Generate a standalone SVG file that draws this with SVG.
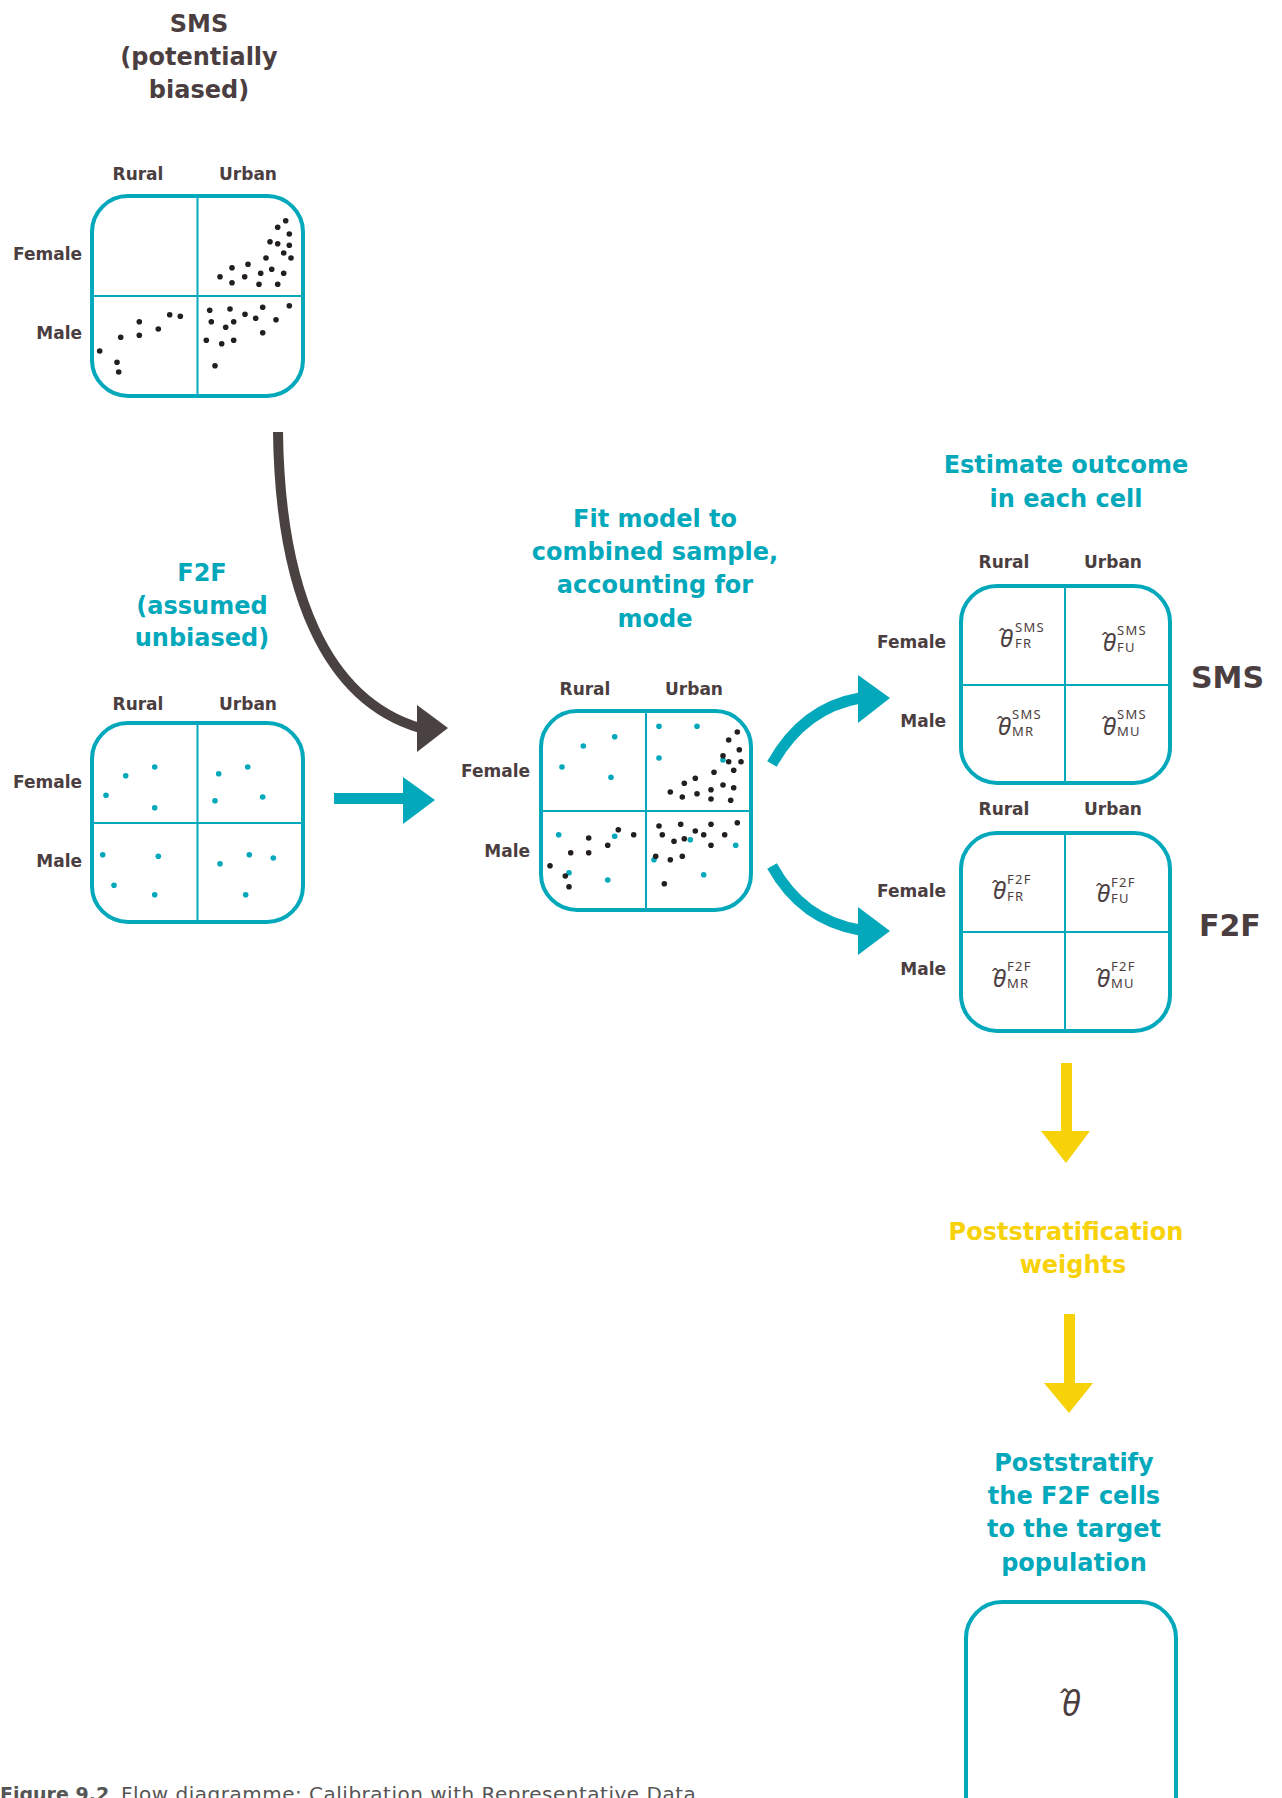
<svg xmlns="http://www.w3.org/2000/svg" width="1282" height="1798" viewBox="0 0 1282 1798">
<style>
.box{fill:none;stroke:#03a8bb;stroke-width:4}
.div{stroke:#03a8bb;stroke-width:2}
.lbl{font-family:"DejaVu Sans",sans-serif;font-weight:bold;font-size:17px;fill:#4b3e40}
.mid{text-anchor:middle}
.end{text-anchor:end}
.tt{font-family:"DejaVu Sans",sans-serif;font-weight:bold;font-size:24px;text-anchor:middle}
.teal{fill:#03a8bb}
.dark{fill:#4b3e40}
.yel{fill:#f8d208}
.big{font-family:"DejaVu Sans",sans-serif;font-weight:bold;font-size:30px;fill:#4b3e40}
.th{font-family:"Noto Sans",sans-serif;font-style:italic;font-size:24px;fill:#4b3e40}
.hat{font-style:normal;font-size:20px}
.sc{font-family:"Noto Sans",sans-serif;font-style:normal;font-size:13px;fill:#4b3e40;letter-spacing:1.3px}
.b{fill:#231f20}
.t{fill:#03a8bb}
</style>
<defs>
<circle id="d" r="2.8"/>
</defs>

<g id="connectors">
<path d="M278,432 C280,590 325,700 420,728" fill="none" stroke="#4a4240" stroke-width="10"/>
<polygon points="417,705 417,752 448,728" fill="#4a4240"/>
<rect x="334" y="793" width="70" height="11" fill="#03a8bb"/>
<polygon points="403,777 403,824 435,800" fill="#03a8bb"/>
<path d="M772,764 C792,728 820,705 860,698" fill="none" stroke="#03a8bb" stroke-width="11"/>
<polygon points="858,675 858,723 890,698" fill="#03a8bb"/>
<path d="M772,866 C792,902 820,923 860,930" fill="none" stroke="#03a8bb" stroke-width="11"/>
<polygon points="858,907 858,955 890,931" fill="#03a8bb"/>
<rect x="1061" y="1063" width="11" height="69" fill="#f8d208"/>
<polygon points="1041,1131 1090,1131 1066,1163" fill="#f8d208"/>
<rect x="1064" y="1314" width="11" height="70" fill="#f8d208"/>
<polygon points="1044,1383 1093,1383 1069,1413" fill="#f8d208"/>
</g>

<g id="sms-sample">
<text class="tt dark" x="199" y="32">SMS</text>
<text class="tt dark" x="199" y="65">(potentially</text>
<text class="tt dark" x="199" y="98">biased)</text>
<text class="lbl mid" x="138" y="180">Rural</text>
<text class="lbl mid" x="248" y="180">Urban</text>
<text class="lbl end" x="82" y="260">Female</text>
<text class="lbl end" x="82" y="339">Male</text>
<rect class="box" x="92" y="196" width="211" height="200" rx="36"/>
<line class="div" x1="197.5" y1="196" x2="197.5" y2="396"/>
<line class="div" x1="92" y1="296" x2="303" y2="296"/>
<g class="b">
<use href="#d" x="285.7" y="220.7"/><use href="#d" x="277.7" y="227.3"/><use href="#d" x="289.3" y="234"/><use href="#d" x="270" y="241.7"/><use href="#d" x="277.7" y="243.7"/><use href="#d" x="289.3" y="245.3"/><use href="#d" x="283.7" y="253"/><use href="#d" x="266" y="258"/><use href="#d" x="291" y="258"/><use href="#d" x="248" y="264.3"/><use href="#d" x="232" y="267.7"/><use href="#d" x="271.7" y="269.3"/><use href="#d" x="283.7" y="273.3"/><use href="#d" x="220" y="276.7"/><use href="#d" x="244.7" y="276.7"/><use href="#d" x="260.7" y="273.3"/><use href="#d" x="232" y="282.7"/><use href="#d" x="259" y="284.3"/><use href="#d" x="277.7" y="284.3"/>
<use href="#d" x="99.7" y="351"/><use href="#d" x="117" y="362.3"/><use href="#d" x="118.7" y="372"/><use href="#d" x="120.7" y="337.3"/><use href="#d" x="139.3" y="321.7"/><use href="#d" x="139.3" y="335.3"/><use href="#d" x="158.3" y="329"/><use href="#d" x="169.7" y="314.7"/><use href="#d" x="180.3" y="316.3"/>
<use href="#d" x="209.7" y="310.3"/><use href="#d" x="230" y="309"/><use href="#d" x="245" y="314.3"/><use href="#d" x="262.7" y="307.3"/><use href="#d" x="289.3" y="305.7"/><use href="#d" x="211.3" y="321.7"/><use href="#d" x="233.7" y="321.7"/><use href="#d" x="255.7" y="318.3"/><use href="#d" x="225.7" y="327.3"/><use href="#d" x="276" y="319.7"/><use href="#d" x="262.7" y="332.7"/><use href="#d" x="206.3" y="340.3"/><use href="#d" x="221.7" y="343.7"/><use href="#d" x="233.7" y="340.3"/><use href="#d" x="215" y="365.7"/>
</g>
</g>

<g id="f2f-sample">
<text class="tt teal" x="202" y="581">F2F</text>
<text class="tt teal" x="202" y="614">(assumed</text>
<text class="tt teal" x="202" y="646">unbiased)</text>
<text class="lbl mid" x="138" y="710">Rural</text>
<text class="lbl mid" x="248" y="710">Urban</text>
<text class="lbl end" x="82" y="788">Female</text>
<text class="lbl end" x="82" y="867">Male</text>
<rect class="box" x="92" y="723" width="211" height="199" rx="36"/>
<line class="div" x1="197.5" y1="723" x2="197.5" y2="922"/>
<line class="div" x1="92" y1="823" x2="303" y2="823"/>
<g class="t">
<use href="#d" x="125.7" y="775.7"/><use href="#d" x="154.7" y="767"/><use href="#d" x="106" y="795.3"/><use href="#d" x="154.7" y="807.7"/>
<use href="#d" x="218.7" y="773.7"/><use href="#d" x="247.7" y="767"/><use href="#d" x="215" y="800.7"/><use href="#d" x="262.7" y="797"/>
<use href="#d" x="102.7" y="854.7"/><use href="#d" x="158.3" y="856.3"/><use href="#d" x="114" y="885.3"/><use href="#d" x="154.7" y="894.7"/>
<use href="#d" x="220" y="863.7"/><use href="#d" x="249.3" y="854.7"/><use href="#d" x="273.3" y="858"/><use href="#d" x="245.7" y="894.7"/>
</g>
</g>

<g id="combined-model">
<text class="tt teal" x="655" y="527">Fit model to</text>
<text class="tt teal" x="655" y="560">combined sample,</text>
<text class="tt teal" x="655" y="593">accounting for</text>
<text class="tt teal" x="655" y="627">mode</text>
<text class="lbl mid" x="585" y="695">Rural</text>
<text class="lbl mid" x="694" y="695">Urban</text>
<text class="lbl end" x="530" y="777">Female</text>
<text class="lbl end" x="530" y="857">Male</text>
<rect class="box" x="541" y="711" width="210" height="199" rx="36"/>
<line class="div" x1="646" y1="711" x2="646" y2="910"/>
<line class="div" x1="541" y1="811" x2="751" y2="811"/>
<g class="t">
<use href="#d" x="614.7" y="736.7"/><use href="#d" x="583.3" y="746"/><use href="#d" x="562" y="767"/><use href="#d" x="611" y="777.3"/>
<use href="#d" x="659" y="726.3"/><use href="#d" x="697" y="726.3"/><use href="#d" x="659" y="758"/><use href="#d" x="723" y="760"/>
<use href="#d" x="558.7" y="834.7"/><use href="#d" x="614.7" y="836.3"/><use href="#d" x="569" y="872.7"/><use href="#d" x="607.7" y="880"/>
<use href="#d" x="690.3" y="839.7"/><use href="#d" x="735.7" y="845.3"/><use href="#d" x="654" y="859.7"/><use href="#d" x="703.7" y="874.7"/>
</g>
<g class="b">
<use href="#d" x="737.3" y="732"/><use href="#d" x="728.7" y="740"/><use href="#d" x="739.3" y="749.7"/><use href="#d" x="723" y="755.7"/><use href="#d" x="728.7" y="761.7"/><use href="#d" x="741" y="761.7"/><use href="#d" x="714" y="772.3"/><use href="#d" x="733.7" y="770.3"/><use href="#d" x="684.3" y="783.3"/><use href="#d" x="695.3" y="778.3"/><use href="#d" x="723" y="785"/><use href="#d" x="733.7" y="787.7"/><use href="#d" x="670.3" y="792"/><use href="#d" x="682.3" y="797"/><use href="#d" x="697" y="793.7"/><use href="#d" x="711" y="789.7"/><use href="#d" x="711" y="799"/><use href="#d" x="730.7" y="800.3"/>
<use href="#d" x="618.3" y="829.7"/><use href="#d" x="633.7" y="834.7"/><use href="#d" x="588.7" y="838"/><use href="#d" x="607.7" y="845.3"/><use href="#d" x="570.7" y="852.7"/><use href="#d" x="588.7" y="852.7"/><use href="#d" x="550" y="865.7"/><use href="#d" x="565.3" y="876"/><use href="#d" x="569" y="886.7"/>
<use href="#d" x="659" y="826"/><use href="#d" x="680.7" y="824.3"/><use href="#d" x="711" y="824.3"/><use href="#d" x="737.3" y="822.7"/><use href="#d" x="662.3" y="834.7"/><use href="#d" x="695.3" y="831"/><use href="#d" x="703.7" y="834.7"/><use href="#d" x="724.7" y="834.7"/><use href="#d" x="674" y="841.3"/><use href="#d" x="684.3" y="838.7"/><use href="#d" x="711" y="845.3"/><use href="#d" x="655.7" y="856.3"/><use href="#d" x="670.3" y="859.7"/><use href="#d" x="682.3" y="856.3"/><use href="#d" x="664.3" y="883.7"/>
</g>
</g>

<g id="sms-estimates">
<text class="tt teal" x="1066" y="473">Estimate outcome</text>
<text class="tt teal" x="1066" y="507">in each cell</text>
<text class="lbl mid" x="1004" y="568">Rural</text>
<text class="lbl mid" x="1113" y="568">Urban</text>
<text class="lbl end" x="946" y="648">Female</text>
<text class="lbl end" x="946" y="727">Male</text>
<rect class="box" x="961" y="586" width="209" height="197" rx="36"/>
<line class="div" x1="1065" y1="586" x2="1065" y2="783"/>
<line class="div" x1="961" y1="685" x2="1170" y2="685"/>
<text class="th"><tspan class="hat" x="998" y="643">ˆ</tspan><tspan x="1000" y="647">θ</tspan><tspan class="sc" x="1015" y="632">SMS</tspan><tspan class="sc" x="1015" y="648">FR</tspan></text>
<text class="th"><tspan class="hat" x="1101" y="647">ˆ</tspan><tspan x="1103" y="651">θ</tspan><tspan class="sc" x="1117" y="635">SMS</tspan><tspan class="sc" x="1117" y="652">FU</tspan></text>
<text class="th"><tspan class="hat" x="996" y="731">ˆ</tspan><tspan x="998" y="735">θ</tspan><tspan class="sc" x="1012" y="719">SMS</tspan><tspan class="sc" x="1012" y="736">MR</tspan></text>
<text class="th"><tspan class="hat" x="1101" y="731">ˆ</tspan><tspan x="1103" y="735">θ</tspan><tspan class="sc" x="1117" y="719">SMS</tspan><tspan class="sc" x="1117" y="736">MU</tspan></text>
<text class="big" x="1191" y="688">SMS</text>
</g>

<g id="f2f-estimates">
<text class="lbl mid" x="1004" y="815">Rural</text>
<text class="lbl mid" x="1113" y="815">Urban</text>
<text class="lbl end" x="946" y="897">Female</text>
<text class="lbl end" x="946" y="975">Male</text>
<rect class="box" x="961" y="833" width="209" height="198" rx="36"/>
<line class="div" x1="1065" y1="833" x2="1065" y2="1031"/>
<line class="div" x1="961" y1="932" x2="1170" y2="932"/>
<text class="th"><tspan class="hat" x="991" y="895">ˆ</tspan><tspan x="993" y="899">θ</tspan><tspan class="sc" x="1007" y="884">F2F</tspan><tspan class="sc" x="1007" y="901">FR</tspan></text>
<text class="th"><tspan class="hat" x="1095" y="898">ˆ</tspan><tspan x="1097" y="902">θ</tspan><tspan class="sc" x="1111" y="887">F2F</tspan><tspan class="sc" x="1111" y="903">FU</tspan></text>
<text class="th"><tspan class="hat" x="991" y="983">ˆ</tspan><tspan x="993" y="987">θ</tspan><tspan class="sc" x="1007" y="971">F2F</tspan><tspan class="sc" x="1007" y="988">MR</tspan></text>
<text class="th"><tspan class="hat" x="1095" y="983">ˆ</tspan><tspan x="1097" y="987">θ</tspan><tspan class="sc" x="1111" y="971">F2F</tspan><tspan class="sc" x="1111" y="988">MU</tspan></text>
<text class="big" x="1199" y="936">F2F</text>
</g>

<g id="weights">
<text class="tt yel" x="1066" y="1240">Poststratification</text>
<text class="tt yel" x="1073" y="1273">weights</text>
</g>

<g id="poststratify">
<text class="tt teal" x="1074" y="1471">Poststratify</text>
<text class="tt teal" x="1074" y="1504">the F2F cells</text>
<text class="tt teal" x="1074" y="1537">to the target</text>
<text class="tt teal" x="1074" y="1571">population</text>
<rect class="box" x="966" y="1602" width="210" height="230" rx="36"/>
<text class="th" style="font-size:34px"><tspan class="hat" style="font-size:28px" x="1059" y="1710">ˆ</tspan><tspan x="1062" y="1716">θ</tspan></text>
</g>

<g id="caption">
<text y="1801" style="font-family:'DejaVu Sans',sans-serif;fill:#555"><tspan x="0" font-weight="bold" font-size="19">Figure 9.2</tspan><tspan x="121" font-size="20" letter-spacing="0.5">Flow diagramme: Calibration with Representative Data</tspan></text>
</g>
</svg>
